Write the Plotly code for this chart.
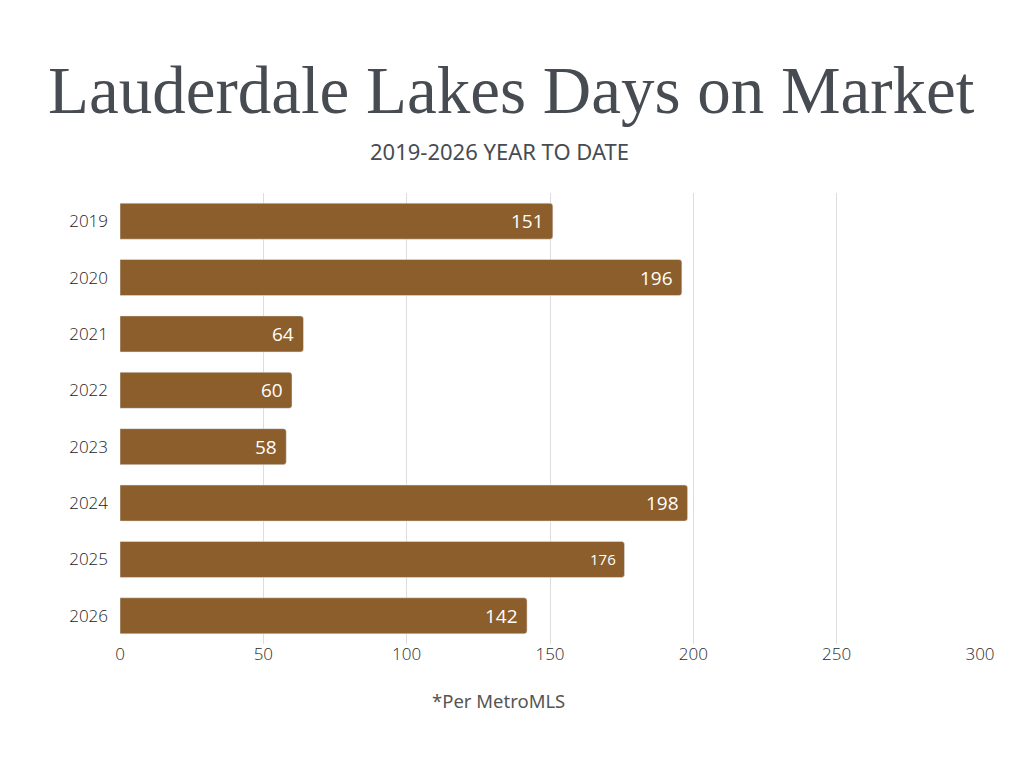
import plotly.graph_objects as go

years = ["2019", "2020", "2021", "2022", "2023", "2024", "2025", "2026"]
days = [151, 196, 64, 60, 58, 198, 176, 142]
label_sizes = [19, 19, 19, 19, 19, 19, 15, 19]
x_ticks = [0, 50, 100, 150, 200, 250, 300]

fig = go.Figure(go.Bar(
    x=days,
    y=years,
    orientation="h",
    marker=dict(color="#8B5E2C", cornerradius=3),
))

# value labels sit just inside the end of each bar
# (category axis: annotation y is the category index)
for i, (d, sz) in enumerate(zip(days, label_sizes)):
    fig.add_annotation(
        x=d, y=i, xref="x", yref="y",
        text=str(d), showarrow=False,
        xanchor="right", xshift=-7,
        font=dict(color="white", family="Open Sans", size=sz),
    )

fig.update_layout(
    width=1024,
    height=768,
    paper_bgcolor="white",
    plot_bgcolor="white",
    margin=dict(l=112, r=52, t=185, b=132),
    bargap=0.36,
    showlegend=False,
    font=dict(family="Open Sans", color="#333"),
)

fig.update_xaxes(
    range=[0, 300],
    tickvals=x_ticks,
    showgrid=True,
    gridcolor="#dddddd",
    gridwidth=1,
    zeroline=False,
    tickfont=dict(size=17, color="#2a2a2a", weight=300),
    ticks="",
    ticklabelstandoff=-2,
    fixedrange=True,
)
fig.update_yaxes(
    type="category",
    categoryorder="array",
    categoryarray=years,
    range=[len(years) - 0.5, -0.5],
    tickfont=dict(size=17, color="#222", weight=300),
    ticks="",
    ticklabelstandoff=11,
)

fig.add_annotation(
    text="Lauderdale Lakes Days on Market",
    xref="paper", yref="paper", x=0.5, xanchor="center",
    y=1.0, yanchor="bottom", yshift=64,
    xshift=-39,
    showarrow=False,
    font=dict(family="Liberation Serif", size=67, color="#474C52"),
)
fig.add_annotation(
    text="2019-2026 YEAR TO DATE",
    xref="paper", yref="paper", x=0.5, xanchor="center",
    y=1.0, yanchor="bottom", yshift=25,
    xshift=-51,
    showarrow=False,
    font=dict(family="Noto Sans", size=22, color="#474C52"),
)
fig.add_annotation(
    text="*Per MetroMLS",
    xref="paper", yref="paper", x=0.5, xanchor="center",
    y=0, yanchor="top", yshift=-42,
    xshift=-52,
    showarrow=False,
    font=dict(family="Noto Sans", size=18.5, color="#555"),
)

fig.write_html("out.html")
